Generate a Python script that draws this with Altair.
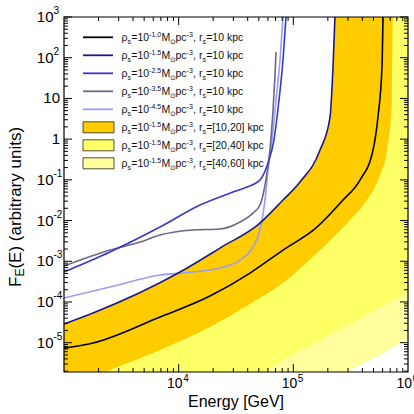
import altair as alt
import pandas as pd

W, H = 344, 355
X_DOMAIN = [1e3, 1e6]
Y_DOMAIN = [10 ** -5.72, 1e3]
FONT = "Liberation Sans"

# ---- curves: log10(E / GeV) and log10(F_E), r_s = 10 kpc ----
rho10_le = [3.000, 3.253, 3.837, 4.273, 4.622, 4.910, 5.206, 5.433, 5.581, 5.695, 5.738, 5.773, 5.782]
rho10_lf = [-5.133, -5.010, -4.371, -3.855, -3.290, -2.725, -2.160, -1.496, -1.005, -0.268, 0.543, 1.771, 3.000]

rho15_le = [3.000, 3.253, 4.012, 4.360, 4.709, 4.910, 5.058, 5.233, 5.320, 5.346, 5.363]
rho15_lf = [-4.543, -4.273, -3.265, -2.676, -2.061, -1.496, -1.054, -0.268, 0.543, 1.771, 3.000]

rho25_le = [3.000, 3.401, 3.837, 4.186, 4.474, 4.596, 4.709, 4.779, 4.831, 4.875, 4.910, 4.936]
rho25_lf = [-3.265, -2.774, -2.160, -1.619, -1.300, -1.177, -1.005, -0.587, -0.022, 0.961, 1.943, 3.000]

rho35_le = [3.000, 3.401, 3.663, 3.837, 4.125, 4.360, 4.535, 4.648, 4.709, 4.753, 4.796, 4.823, 4.840, 4.849]
rho35_lf = [-3.118, -2.725, -2.528, -2.356, -2.233, -2.209, -2.037, -1.816, -1.619, -1.128, -0.268, 0.715, 1.575, 2.140]

rho45_le = [3.000, 3.401, 3.837, 4.125, 4.360, 4.535, 4.648, 4.709, 4.753, 4.779, 4.814, 4.849, 4.884, 4.910]
rho45_lf = [-3.904, -3.634, -3.339, -3.265, -3.167, -2.971, -2.651, -2.233, -1.496, -0.759, -0.022, 0.961, 1.943, 3.000]

# ---- band edges for rho_s = 10^-1.5 (r_s = 10, 20, 40, 60 kpc), flux clipped at the top ----
rs10_le = rho15_le + [6.000]
rs10_lf = rho15_lf + [3.000]
rs20_le = [3.000, 3.401, 3.837, 4.273, 4.622, 4.910, 5.206, 5.494, 5.642, 5.756, 5.817, 5.860, 5.869, 6.000]
rs20_lf = [-6.115, -5.673, -5.182, -4.617, -4.052, -3.536, -2.799, -1.988, -1.496, -0.882, -0.268, 0.961, 3.000, 3.000]
rs40_le = [4.622, 4.796, 5.206, 5.494, 5.782, 6.000]
rs40_lf = [-5.968, -5.624, -4.985, -4.543, -4.101, -3.757]
rs60_le = [5.320, 5.494, 5.756, 6.000]
rs60_lf = [-5.968, -5.673, -5.305, -4.887]

# ---- legend ----
legend_rho_exp = ["-1.0", "-1.5", "-2.5", "-3.5", "-4.5", "-1.5", "-1.5", "-1.5"]
legend_rs = ["10", "10", "10", "10", "10", "[10,20]", "[20,40]", "[40,60]"]
LINE_COLORS = ["#000000", "#1a1a8c", "#3838c8", "#68688e", "#9c9cf0"]
BAND_COLORS = ["#ffcc00", "#ffff66", "#ffff9e"]

# ---- axes ----
x_label_exp = ["4", "5", "6"]
x_label_val = [1e4, 1e5, 1e6]
y_label_val = [1e3, 1e2, 1e1, 1e0, 1e-1, 1e-2, 1e-3, 1e-4, 1e-5]
y_label_base = ["10", "10", "10", "1", "10", "10", "10", "10", "10"]
y_label_sup = ["3", "2", "", "", "-1", "-2", "-3", "-4", "-5"]

CW = {"0": .556, "1": .556, "2": .556, "3": .556, "4": .556, "5": .556, "6": .556,
      "7": .556, "8": .556, "9": .556, "=": .584, "-": .333, ".": .278, ",": .278,
      " ": .278, "k": .5, "p": .556, "c": .5, "M": .833, "r": .333, "s": .5, "[": .278,
      "]": .278, "ρ": .578, "F": .611, "E": .667, "(": .333, ")": .333, "a": .556,
      "b": .556, "i": .222, "t": .278, "u": .556, "n": .556, "y": .5, "⊙": .7}


def text_width(s, size):
    return sum(CW.get(ch, .556) for ch in s) * size


def curve(le, lf):
    return pd.DataFrame({"E": [10 ** v for v in le], "F": [10 ** v for v in lf]})


xs = alt.Scale(type="log", domain=X_DOMAIN)
ys = alt.Scale(type="log", domain=Y_DOMAIN)
XE = alt.X("E:Q", scale=xs, axis=None)
YF = alt.Y("F:Q", scale=ys, axis=None)


def band(le, lf, color):
    return alt.Chart(curve(le, lf)).mark_area(
        color=color, opacity=1, clip=True, interpolate="monotone"
    ).encode(XE, YF, y2=alt.datum(Y_DOMAIN[0]))


def line(le, lf, color):
    return alt.Chart(curve(le, lf)).mark_line(
        color=color, strokeWidth=1.6, clip=True, interpolate="monotone"
    ).encode(XE, YF)


layers = [
    band(rs10_le, rs10_lf, BAND_COLORS[0]),
    band(rs20_le, rs20_lf, BAND_COLORS[1]),
    band(rs40_le, rs40_lf, BAND_COLORS[2]),
    band(rs60_le, rs60_lf, "#ffffff"),
    line(rho45_le, rho45_lf, LINE_COLORS[4]),
    line(rho35_le, rho35_lf, LINE_COLORS[3]),
    line(rho25_le, rho25_lf, LINE_COLORS[2]),
    line(rho15_le, rho15_lf, LINE_COLORS[1]),
    line(rho10_le, rho10_lf, LINE_COLORS[0]),
]

# ---- inward ticks on all four sides ----
x_major = [1e4, 1e5]
x_minor = [k * 10 ** n for n in (3, 4, 5) for k in range(2, 10)]
y_major = [10 ** n for n in range(-5, 4)]
y_minor = [k * 10.0 ** n for n in range(-6, 3) for k in range(2, 10)
           if Y_DOMAIN[0] < k * 10.0 ** n < Y_DOMAIN[1]]

for vals, length in ((x_major, 8), (x_minor, 4)):
    df = pd.DataFrame({"v": vals})
    xv = alt.X("v:Q", scale=xs, axis=None)
    layers.append(alt.Chart(df).mark_rule(color="black", strokeWidth=1)
                  .encode(x=xv, y=alt.value(H), y2=alt.value(H - length)))
    layers.append(alt.Chart(df).mark_rule(color="black", strokeWidth=1)
                  .encode(x=xv, y=alt.value(0), y2=alt.value(length)))
for vals, length in ((y_major, 8), (y_minor, 4)):
    df = pd.DataFrame({"v": vals})
    yv = alt.Y("v:Q", scale=ys, axis=None)
    layers.append(alt.Chart(df).mark_rule(color="black", strokeWidth=1)
                  .encode(y=yv, x=alt.value(0), x2=alt.value(length)))
    layers.append(alt.Chart(df).mark_rule(color="black", strokeWidth=1)
                  .encode(y=yv, x=alt.value(W), x2=alt.value(W - length)))

# frame
layers.append(
    alt.Chart(pd.DataFrame({"a": [0]})).mark_rect(fillOpacity=0, stroke="black", strokeWidth=1.2)
    .encode(x=alt.value(0), x2=alt.value(W), y=alt.value(0), y2=alt.value(H))
)

# ---- tick labels ----
xl = pd.DataFrame({"v": x_label_val, "b": ["10"] * 3, "s": x_label_exp})
layers.append(alt.Chart(xl).mark_text(align="right", baseline="middle", fontSize=14, font=FONT, dx=4)
              .encode(x=alt.X("v:Q", scale=xs, axis=None), y=alt.value(H + 12), text="b:N"))
layers.append(alt.Chart(xl).mark_text(align="left", baseline="middle", fontSize=10, font=FONT, dx=4.5)
              .encode(x=alt.X("v:Q", scale=xs, axis=None), y=alt.value(H + 7), text="s:N"))

yl = pd.DataFrame({"v": y_label_val, "b": y_label_base, "s": y_label_sup})
yl["bx"] = [-10.5 if s else -4 for s in y_label_sup]
layers.append(alt.Chart(yl).mark_text(align="right", baseline="middle", fontSize=15, font=FONT)
              .encode(x=alt.X("bx:Q", scale=None, axis=None), y=alt.Y("v:Q", scale=ys, axis=None), text="b:N"))
layers.append(alt.Chart(yl).mark_text(align="left", baseline="middle", fontSize=10, font=FONT, dx=-10.5, dy=-6)
              .encode(x=alt.value(0), y=alt.Y("v:Q", scale=ys, axis=None), text="s:N"))

# ---- axis titles ----
layers.append(alt.Chart(pd.DataFrame({"t": ["Energy [GeV]"]})).mark_text(
    align="center", baseline="middle", fontSize=16, font=FONT)
    .encode(x=alt.value(W / 2), y=alt.value(H + 30), text="t:N"))

yt = []
ty = 270.0
for txt, size, dx in (("F", 17, 0), ("E", 12, 4), ("(E) (arbitrary units)", 17, 0)):
    yt.append({"x": -48 + dx, "y": ty, "t": txt, "s": size})
    ty -= text_width(txt, size)
layers.append(alt.Chart(pd.DataFrame(yt)).mark_text(align="left", baseline="middle", angle=270, font=FONT)
              .encode(x=alt.X("x:Q", scale=None, axis=None), y=alt.Y("y:Q", scale=None, axis=None),
                      text="t:N", size=alt.Size("s:Q", scale=None)))

# ---- legend ----
LEG_Y0, LEG_DY = 20.3, 18.0
SW_X0, SW_X1 = 19, 49
TX0 = 57.5
for i, c in enumerate(LINE_COLORS):
    yy = LEG_Y0 + LEG_DY * i
    layers.append(alt.Chart(pd.DataFrame({"a": [0]})).mark_rule(color=c, strokeWidth=1.8)
                  .encode(x=alt.value(SW_X0), x2=alt.value(SW_X1), y=alt.value(yy)))
for j, c in enumerate(BAND_COLORS):
    yy = LEG_Y0 + LEG_DY * (5 + j)
    layers.append(alt.Chart(pd.DataFrame({"a": [0]})).mark_rect(fill=c, stroke="#222222", strokeWidth=0.8)
                  .encode(x=alt.value(SW_X0), x2=alt.value(SW_X1 + 1),
                          y=alt.value(yy - 5.5), y2=alt.value(yy + 5.5)))

MAIN, SMALL = 10.5, 7
pieces = []
for i, (ex, rs) in enumerate(zip(legend_rho_exp, legend_rs)):
    base = LEG_Y0 + LEG_DY * i + 4
    x = TX0
    parts = [("ρ", "n"), ("s", "sub"), ("=10", "n"), (ex, "sup"), ("M", "n"), ("⊙", "sub"),
             ("pc", "n"), ("-3", "sup"), (", r", "n"), ("s", "sub"), ("=" + rs + " kpc", "n")]
    for txt, kind in parts:
        size = MAIN if kind == "n" else SMALL
        dy = {"n": 0, "sub": 2.5, "sup": -4.5}[kind]
        pieces.append({"x": x, "y": base + dy, "t": txt, "s": size})
        x += text_width(txt, size) + (0.3 if kind != "n" else 0)
layers.append(alt.Chart(pd.DataFrame(pieces)).mark_text(align="left", baseline="alphabetic", font=FONT, color="#111111")
              .encode(x=alt.X("x:Q", scale=None, axis=None), y=alt.Y("y:Q", scale=None, axis=None),
                      text="t:N", size=alt.Size("s:Q", scale=None)))

chart = alt.layer(*layers).properties(
    width=W, height=H,
    padding={"left": 64, "top": 17, "right": 6, "bottom": 42},
    autosize=alt.AutoSizeParams(type="none"),
).configure_view(strokeWidth=0)

chart.save("out.html", embed_options={"renderer": "svg", "actions": False})
